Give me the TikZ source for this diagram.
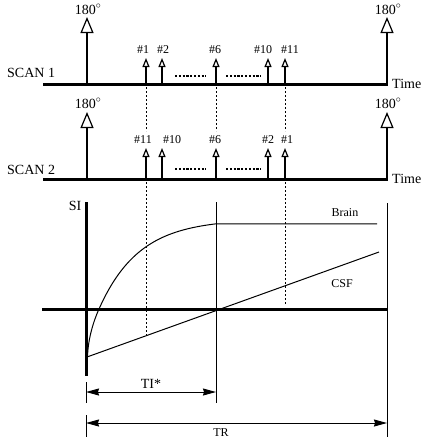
\documentclass[tikz,border=0pt]{standalone}
\usepackage{fontspec}
\setmainfont{Liberation Serif}
\usetikzlibrary{arrows.meta}
\tikzstyle{axis} = [line width=3pt]
\tikzstyle{rule} = [line width=1pt]
\tikzstyle{bigpulse} = [line width=1.2pt,-{Triangle[open,length=16pt,width=13pt]}]
\tikzstyle{smallpulse} = [line width=1.2pt,-{Triangle[open,length=9pt,width=7pt]}]
\tikzstyle{gap} = [line width=2.4pt,dash pattern=on 2.2pt off 1.6pt]
\tikzstyle{guide} = [line width=0.8pt,dash pattern=on 2pt off 2pt]
\tikzstyle{dim} = [line width=1pt,{Stealth[length=13pt,width=7pt,inset=1pt]}-{Stealth[length=13pt,width=7pt,inset=1pt]}]
\tikzstyle{lbl} = [inner sep=0pt,font=\fontsize{14}{16}\selectfont]
\tikzstyle{num} = [inner sep=0pt,anchor=base,font=\fontsize{12}{14}\selectfont]

\begin{document}
\begin{tikzpicture}[x=1pt,y=-1pt]
\useasboundingbox (0,0) rectangle (430,440);

% scan 1
\draw [axis] (43,84) -- (388,84);
\node (scan1) [lbl,anchor=base west] at (7,77) {SCAN 1};
\node (time1) [lbl,anchor=west] at (392,84) {Time};
\draw [bigpulse] (87,84) -- (87,17);
\draw [bigpulse] (387,84) -- (387,17);
\node (ra1) [lbl,anchor=base] at (88,14) {180$^{\circ}$};
\node (rb1) [lbl,anchor=base] at (388,14) {180$^{\circ}$};
\foreach \x/\l/\t in {146/143/1,162/163/2,216/215/6,268/263/10,285/290/11} {
  \draw [smallpulse] (\x,84) -- (\x,58);
  \node (s1n\t) [num] at (\l,53) {\#\t};
}
\draw [gap] (175,76) -- (206,76);
\draw [gap] (226,76) -- (261,76);

% scan 2
\draw [axis] (43,179) -- (388,179);
\node (scan2) [lbl,anchor=base west] at (7,174) {SCAN 2};
\node (time2) [lbl,anchor=west] at (392,179) {Time};
\draw [bigpulse] (87,179) -- (87,112);
\draw [bigpulse] (387,179) -- (387,112);
\node (ra2) [lbl,anchor=base] at (88,108) {180$^{\circ}$};
\node (rb2) [lbl,anchor=base] at (388,108) {180$^{\circ}$};
\foreach \x/\l/\t in {146/143/11,162/172/10,216/215/6,268/268/2,285/287/1} {
  \draw [smallpulse] (\x,179) -- (\x,148);
  \node (s2n\t) [num] at (\l,143) {\#\t};
}
\draw [gap] (175,169) -- (206,169);
\draw [gap] (226,169) -- (261,169);

% guides
\foreach \x in {146,216,285}
  \draw [guide] (\x,87) -- (\x,131);
\draw [guide] (146,182) -- (146,335);
\draw [guide] (285,182) -- (285,305);

% signal plot
\draw [axis] (86,202) -- (86,376);
\draw [axis] (42,309) -- (388,309);
\node (si) [lbl,anchor=base] at (75,210) {SI};
\draw [rule] (216,202) -- (216,403);
\draw [rule] (387,203) -- (387,437);
\draw [rule] (86,382) -- (86,403);
\draw [rule] (86,415) -- (86,437);
\draw [rule] (87.5,357) .. controls (88,338) and (94,320) .. (99,309)
  -- plot [domain=99:216,samples=50] (\x,{309-90*(1-exp(-(\x-99)/40))})
  -- (377,223.8);
\node (brain) [num] at (345,216) {Brain};
\draw [rule] (87,357) -- (379,252);
\node (csf) [num] at (342,287) {CSF};

% intervals
\coordinate (tiL) at (86,392);
\coordinate (tiR) at (216,392);
\coordinate (trL) at (86,423);
\coordinate (trR) at (387,423);
\draw [dim] (tiL) -- (tiR);
\node (ti) [lbl,anchor=base] at (151,388) {TI*};
\draw [dim] (trL) -- (trR);
\node (tr) [num] at (221,436) {TR};
\end{tikzpicture}
\end{document}
